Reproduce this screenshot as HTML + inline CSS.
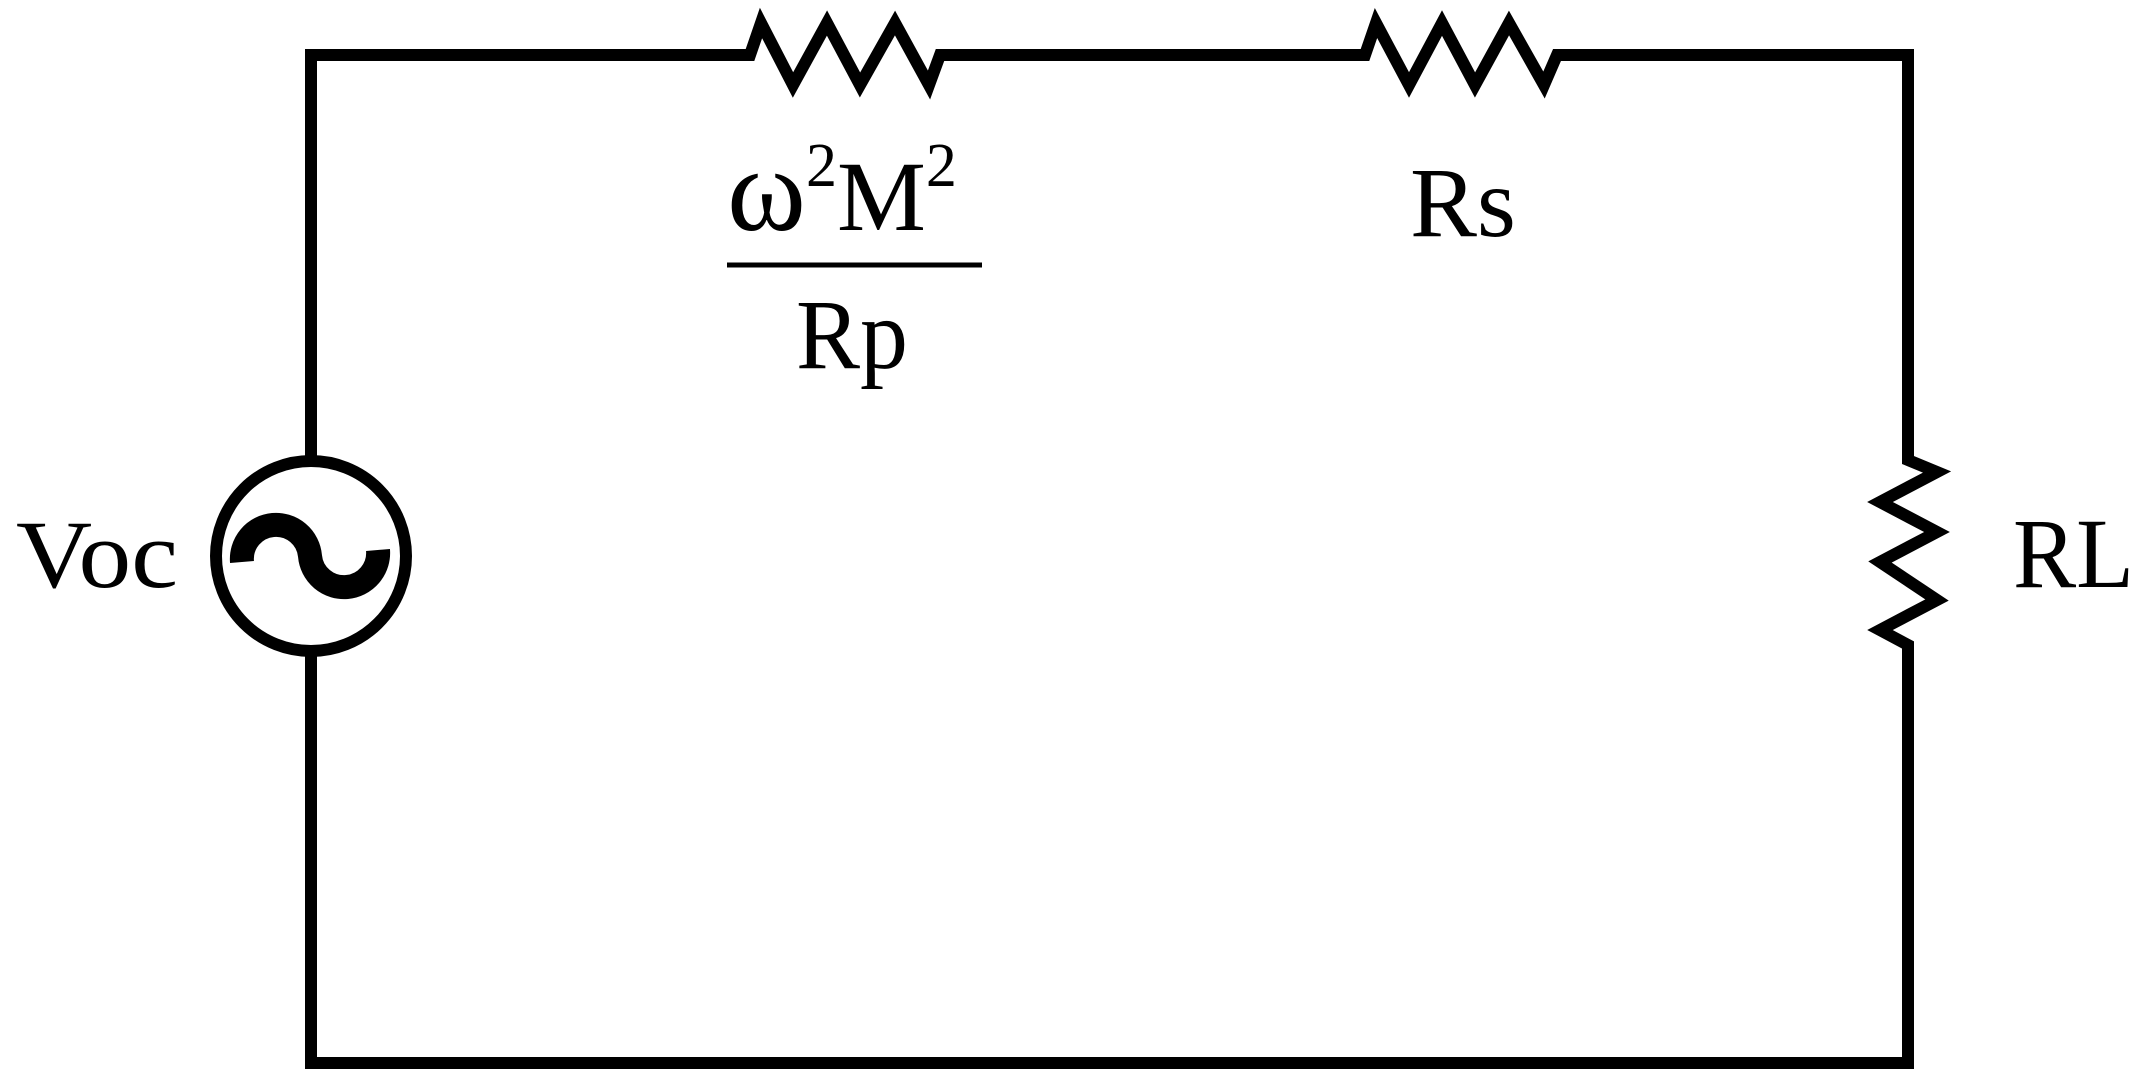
<!DOCTYPE html>
<html><head><style>html,body{margin:0;padding:0;background:#fff}svg{display:block}text{font-family:"Liberation Serif","Times New Roman",serif}</style></head>
<body>
<svg width="2151" height="1090" viewBox="0 0 2151 1090" xmlns="http://www.w3.org/2000/svg">
<g fill="none" stroke="#000" stroke-width="12" stroke-linejoin="miter" stroke-linecap="square">
<polyline points="311,456 311,55 750,55 761,23 793,85 827,23 860,85 895,23 929,85 940,55 1365,55 1376,23 1409,85 1442,23 1475,85 1509,23 1544,85 1557,55 1908,55 1908,460 1937,472 1880,502 1937,532 1880,562 1937,600 1880,630 1908,645 1908,1063 311,1063 311,656"/>
<circle cx="311" cy="556" r="95"/>
<path d="M242,562 A34,34 0 0 1 310,556 A34,34 0 0 0 378,550" stroke-width="24" stroke-linecap="butt"/>
<line x1="727" y1="265" x2="982" y2="265" stroke-width="5" stroke-linecap="butt"/>
</g>
<g fill="#000">
<text x="16" y="587" font-size="96" textLength="162" lengthAdjust="spacingAndGlyphs">Voc</text>
<text x="727" y="230" font-size="100"><tspan font-size="120">ω</tspan><tspan font-size="62" dy="-44">2</tspan><tspan dy="44">M</tspan><tspan font-size="62" dy="-44">2</tspan></text>
<text x="796" y="368" font-size="100" textLength="112" lengthAdjust="spacingAndGlyphs">Rp</text>
<text x="1410" y="236" font-size="100" textLength="106" lengthAdjust="spacingAndGlyphs">Rs</text>
<text x="2013" y="587" font-size="100" textLength="121" lengthAdjust="spacingAndGlyphs">RL</text>
</g>
</svg>
</body></html>
